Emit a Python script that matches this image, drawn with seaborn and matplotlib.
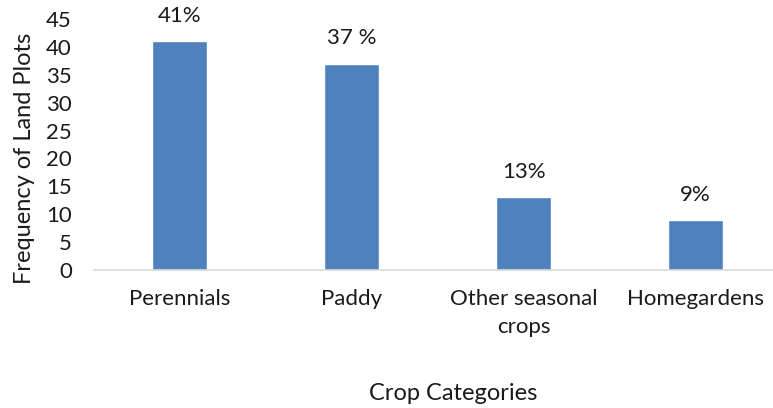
import matplotlib
matplotlib.use("Agg")
import matplotlib.pyplot as plt
import seaborn as sns
import pandas as pd

categories = ["Perennials", "Paddy", "Other seasonal\ncrops", "Homegardens"]
frequencies = [41, 37, 13, 9]
value_labels = ["41%", "37 %", "13%", "9%"]

sns.set_style("white")
plt.rcParams["font.family"] = ["Lato", "DejaVu Sans"]

df = pd.DataFrame({"category": categories, "frequency": frequencies})

fig = plt.figure(figsize=(7.73, 4.08), dpi=100)
ax = fig.add_axes([94 / 773, 1 - 270 / 408, (773 - 94) / 773, (270 - 19) / 408])

sns.barplot(data=df, x="category", y="frequency", color="#4F81BD",
            width=0.32, saturation=1, ax=ax)

ax.set_ylim(0, 45)
ax.set_yticks(range(0, 46, 5))
ax.set_xlim(-0.5, 3.45)

for i, (v, lab) in enumerate(zip(frequencies, value_labels)):
    ax.annotate(lab, (i, v), xytext=(0, 11), textcoords="offset points",
                ha="center", va="bottom", fontsize=16, color="#1a1a1a")

for s in ["top", "right", "left"]:
    ax.spines[s].set_visible(False)
ax.spines["bottom"].set_color("#D9D9D9")
ax.spines["bottom"].set_linewidth(1.2)
ax.tick_params(axis="both", length=0, labelsize=16, colors="#1a1a1a")
ax.tick_params(axis="x", pad=14)
ax.tick_params(axis="y", pad=16)
for t in ax.get_xticklabels():
    t.set_linespacing(1.45)
    t.set_verticalalignment("top")

ax.set_xlabel("Crop Categories", fontsize=17, color="#1a1a1a")
ax.set_ylabel("Frequency of Land Plots", fontsize=17, color="#1a1a1a")
ax.xaxis.set_label_coords((453 - 94) / 679, -(393 - 270) / 251)
ax.xaxis.label.set_verticalalignment("center")
ax.yaxis.set_label_coords(-(94 - 25) / 679, (270 - 158) / 251)
ax.yaxis.label.set_verticalalignment("center")

fig.savefig("out.png", dpi=100)
